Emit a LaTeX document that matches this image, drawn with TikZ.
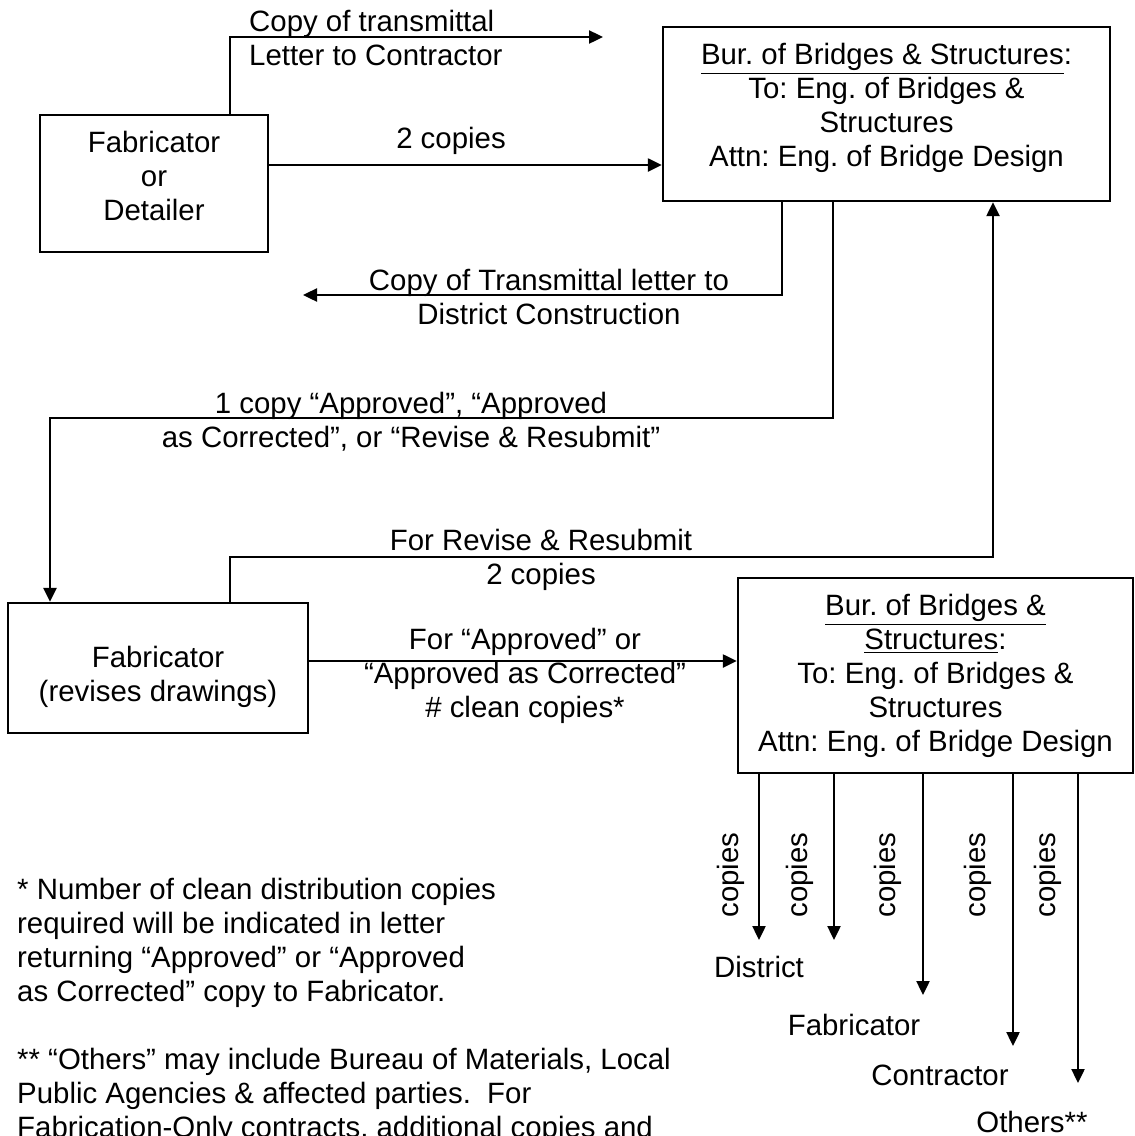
\documentclass[tikz,border=0pt]{standalone}
\usepackage{fontspec}
\setmainfont{Liberation Sans}
\usetikzlibrary{arrows.meta}
\frenchspacing

\tikzset{
  box/.style={draw,align=center,inner sep=0pt},
  arr/.style={-{Triangle[length=7pt,width=6.5pt]}},
  lbl/.style={align=center,inner sep=0pt},
}

\begin{document}
\begin{tikzpicture}[x=0.5pt,y=-0.5pt,line width=1.2pt,font=\fontsize{14.7}{17}\selectfont]
\useasboundingbox (0,0) rectangle (1135,1136);
% boxes
\node[box,minimum width=114pt,minimum height=68.5pt](fd) at (154,183.5) {Fabricator\\or\\Detailer\\[-9pt]};
\node[box,minimum width=223.5pt,minimum height=87pt](bbs) at (886.5,114) {\underline{Bur. of Bridges \& Structures}:\\To: Eng. of Bridges \&\\Structures\\Attn: Eng. of Bridge Design\\[-8pt]};
\node[box,minimum width=150pt,minimum height=65pt](fr) at (158,668) {\vphantom{F}\\[-8pt]Fabricator\\(revises drawings)};
\node[box,minimum width=197.5pt,minimum height=97.5pt](bbs2) at (935.5,675.5) {\underline{Bur. of Bridges \&}\\\underline{Structures}:\\To: Eng. of Bridges \&\\Structures\\Attn: Eng. of Bridge Design};
% free ends
\coordinate (tc) at (603,37);
\coordinate (dc) at (303,295);
% connectors
\draw[arr](fd.north -| 230,0) |- (tc);
\draw[arr](fd.east |- 0,165) -- (bbs.west |- 0,165);
\draw[arr](bbs.south -| 782,0) |- (dc);
\draw[arr](bbs.south -| 833,0) -- (833,418) -| (fr.north -| 50,0);
\draw[arr](fr.north -| 230,0) -- (230,557) -| (bbs.south -| 993,0);
\draw[arr](fr.east |- 0,661) -- (bbs2.west |- 0,661);
% labels
\node[lbl,align=left,anchor=west](l1) at (248,37.5) {Copy of transmittal\\Letter to Contractor};
\node[lbl](l2) at (451,141) {2 copies};
\node[lbl](l3) at (549,297) {Copy of Transmittal letter to\\District Construction};
\node[lbl](l4) at (411,422) {1 copy “Approved”, “Approved\\as Corrected”, or “Revise \& Resubmit”};
\node[lbl](l5) at (541,560) {For Revise \& Resubmit\\2 copies};
\node[lbl](l6) at (525,676) {For “Approved” or\\“Approved as Corrected”\\\# clean copies*};
% distribution
\foreach \x/\y/\d [count=\i] in {759/940/28,834/940/34,923/995/35,1013/1046/35,1078/1083/30}{
  \coordinate (t\i) at (\x,\y);
  \draw[arr](bbs2.south -| \x,0) -- (t\i);
  \node[lbl,rotate=90](cp\i) at (\x-\d,875) {copies};
}
\node[lbl](d1) at (759,967) {District};
\node[lbl](d2) at (854,1025) {Fabricator};
\node[lbl](d3) at (940,1075) {Contractor};
\node[lbl](d4) at (1032,1122) {Others**};
% notes
\node[lbl,align=left,anchor=north west](fn1) at (16,877) {* Number of clean distribution copies\\required will be indicated in letter\\returning “Approved” or “Approved\\as Corrected” copy to Fabricator.};
\node[lbl,align=left,anchor=north west](fn2) at (16,1047) {** “Others” may include Bureau of Materials, Local\\Public Agencies \& affected parties.\ \ For\\Fabrication-Only contracts, additional copies and};
\end{tikzpicture}
\end{document}
